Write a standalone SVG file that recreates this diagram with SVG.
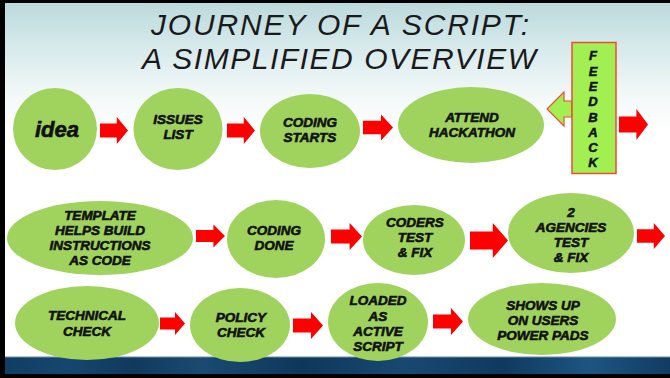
<svg xmlns="http://www.w3.org/2000/svg" xmlns:xlink="http://www.w3.org/1999/xlink" width="670" height="378" viewBox="0 0 670 378">
<defs>
<linearGradient id="bg" x1="0" y1="0" x2="0" y2="1">
<stop offset="0" stop-color="#b9d8db"/>
<stop offset="0.12" stop-color="#d6e9eb"/>
<stop offset="0.25" stop-color="#f2f8f8"/>
<stop offset="0.35" stop-color="#ffffff"/>
<stop offset="1" stop-color="#ffffff"/>
</linearGradient>
<linearGradient id="band" x1="0" y1="0" x2="1" y2="0">
<stop offset="0" stop-color="#103c60"/>
<stop offset="0.1" stop-color="#164670"/>
<stop offset="0.2" stop-color="#0f3a5c"/>
<stop offset="0.3" stop-color="#1a4a72"/>
<stop offset="0.45" stop-color="#0e385a"/>
<stop offset="0.6" stop-color="#184872"/>
<stop offset="0.75" stop-color="#0f3a5e"/>
<stop offset="0.88" stop-color="#1d5582"/>
<stop offset="1" stop-color="#103c62"/>
</linearGradient>
<path id="arr" d="M0,-0.26 H0.6 V-0.5 L1,0 L0.6,0.5 V0.26 H0 Z"/>
<style>
.node ellipse{fill:#a0d35d;}
.lbl{font-family:"Liberation Sans",Arial,sans-serif;font-weight:bold;font-style:italic;font-size:13.5px;fill:#111;stroke:#111;stroke-width:0.6;text-anchor:middle;}
.title{font-family:"Liberation Sans",Arial,sans-serif;font-style:italic;font-size:30px;fill:#1a1a1a;text-anchor:middle;}
.conn use{fill:#ff0000;}
.fb{font-family:"Liberation Sans",Arial,sans-serif;font-weight:bold;font-style:italic;font-size:13px;fill:#111;stroke:#111;stroke-width:0.5;text-anchor:middle;}
</style>
</defs>
<rect x="0" y="0" width="670" height="378" fill="url(#bg)"/>
<rect x="0" y="357" width="670" height="18" fill="url(#band)"/>
<rect x="0" y="356.5" width="670" height="1" fill="#6f8ea4"/>
<rect x="0" y="374" width="670" height="4" fill="#000"/>
<rect x="0" y="0" width="670" height="3" fill="#000"/>
<rect x="0" y="0" width="5" height="378" fill="#000"/>

<g id="title">
<text class="title" x="340" y="35" textLength="378" lengthAdjust="spacing">JOURNEY OF A SCRIPT:</text>
<text class="title" x="339" y="69" textLength="394" lengthAdjust="spacing">A SIMPLIFIED OVERVIEW</text>
</g>

<g id="connectors" class="conn">
<use xlink:href="#arr" transform="translate(100,130.5) scale(28,27)"/>
<use xlink:href="#arr" transform="translate(227,130.5) scale(28,27)"/>
<use xlink:href="#arr" transform="translate(363,127.5) scale(30,26)"/>
<use xlink:href="#arr" transform="translate(619,124.5) scale(29,31)"/>
<use xlink:href="#arr" transform="translate(196,236) scale(29,23)"/>
<use xlink:href="#arr" transform="translate(331,236.5) scale(31,27)"/>
<use xlink:href="#arr" transform="translate(470,240.5) scale(38,35)"/>
<use xlink:href="#arr" transform="translate(637,236) scale(28,26)"/>
<use xlink:href="#arr" transform="translate(160,323.5) scale(25,23)"/>
<use xlink:href="#arr" transform="translate(293,325.5) scale(30,27)"/>
<use xlink:href="#arr" transform="translate(433,321.5) scale(30,27)"/>
</g>

<g id="feedback">
<polygon points="572,101 564,101 564,92 547,109 564,126 564,117 572,117" fill="#a2ef52" stroke="#f04a3a" stroke-width="1.2"/>
<rect x="572" y="42.5" width="44" height="131" fill="#a2ef52" stroke="#f04a3a" stroke-width="1.5"/>
<text class="fb" x="593" y="60">F</text>
<text class="fb" x="593" y="75.5">E</text>
<text class="fb" x="593" y="91">E</text>
<text class="fb" x="593" y="106">D</text>
<text class="fb" x="593" y="121.5">B</text>
<text class="fb" x="593" y="137">A</text>
<text class="fb" x="593" y="152">C</text>
<text class="fb" x="593" y="167">K</text>
</g>

<g id="idea" class="node">
<ellipse cx="55" cy="129" rx="42" ry="41"/>
<text class="lbl" x="57" y="137" style="font-size:22px">idea</text>
</g>
<g id="issues" class="node">
<ellipse cx="178" cy="129" rx="44.5" ry="41"/>
<text class="lbl" x="178" y="124">ISSUES</text>
<text class="lbl" x="178" y="138.5">LIST</text>
</g>
<g id="coding-starts" class="node">
<ellipse cx="310" cy="131" rx="50" ry="37"/>
<text class="lbl" x="310" y="127">CODING</text>
<text class="lbl" x="310" y="142">STARTS</text>
</g>
<g id="hackathon" class="node">
<ellipse cx="471" cy="125" rx="73" ry="38"/>
<text class="lbl" x="472" y="122">ATTEND</text>
<text class="lbl" x="472" y="137">HACKATHON</text>
</g>

<g id="template" class="node">
<ellipse cx="100" cy="238" rx="93" ry="37"/>
<text class="lbl" x="100" y="219.5">TEMPLATE</text>
<text class="lbl" x="100" y="234.5">HELPS BUILD</text>
<text class="lbl" x="100" y="249.5">INSTRUCTIONS</text>
<text class="lbl" x="100" y="264.5">AS CODE</text>
</g>
<g id="coding-done" class="node">
<ellipse cx="276" cy="239" rx="49" ry="39"/>
<text class="lbl" x="274" y="235">CODING</text>
<text class="lbl" x="274" y="250">DONE</text>
</g>
<g id="coders-test" class="node">
<ellipse cx="414" cy="240" rx="51" ry="35"/>
<text class="lbl" x="415" y="227">CODERS</text>
<text class="lbl" x="415" y="242">TEST</text>
<text class="lbl" x="415" y="257">&amp; FIX</text>
</g>
<g id="agencies-test" class="node">
<ellipse cx="571" cy="233" rx="63" ry="40"/>
<text class="lbl" x="571" y="217">2</text>
<text class="lbl" x="571" y="232">AGENCIES</text>
<text class="lbl" x="571" y="247">TEST</text>
<text class="lbl" x="571" y="262">&amp; FIX</text>
</g>

<g id="technical-check" class="node">
<ellipse cx="87" cy="323" rx="72" ry="37"/>
<text class="lbl" x="87" y="320">TECHNICAL</text>
<text class="lbl" x="87" y="335.5">CHECK</text>
</g>
<g id="policy-check" class="node">
<ellipse cx="240" cy="325" rx="50" ry="37"/>
<text class="lbl" x="241" y="321.5">POLICY</text>
<text class="lbl" x="241" y="337">CHECK</text>
</g>
<g id="loaded" class="node">
<ellipse cx="378" cy="322" rx="50" ry="39"/>
<text class="lbl" x="378" y="305">LOADED</text>
<text class="lbl" x="378" y="320.5">AS</text>
<text class="lbl" x="378" y="336">ACTIVE</text>
<text class="lbl" x="378" y="351">SCRIPT</text>
</g>
<g id="shows-up" class="node">
<ellipse cx="542" cy="319" rx="74" ry="36"/>
<text class="lbl" x="543" y="310">SHOWS UP</text>
<text class="lbl" x="543" y="325">ON USERS</text>
<text class="lbl" x="543" y="340">POWER PADS</text>
</g>
</svg>
